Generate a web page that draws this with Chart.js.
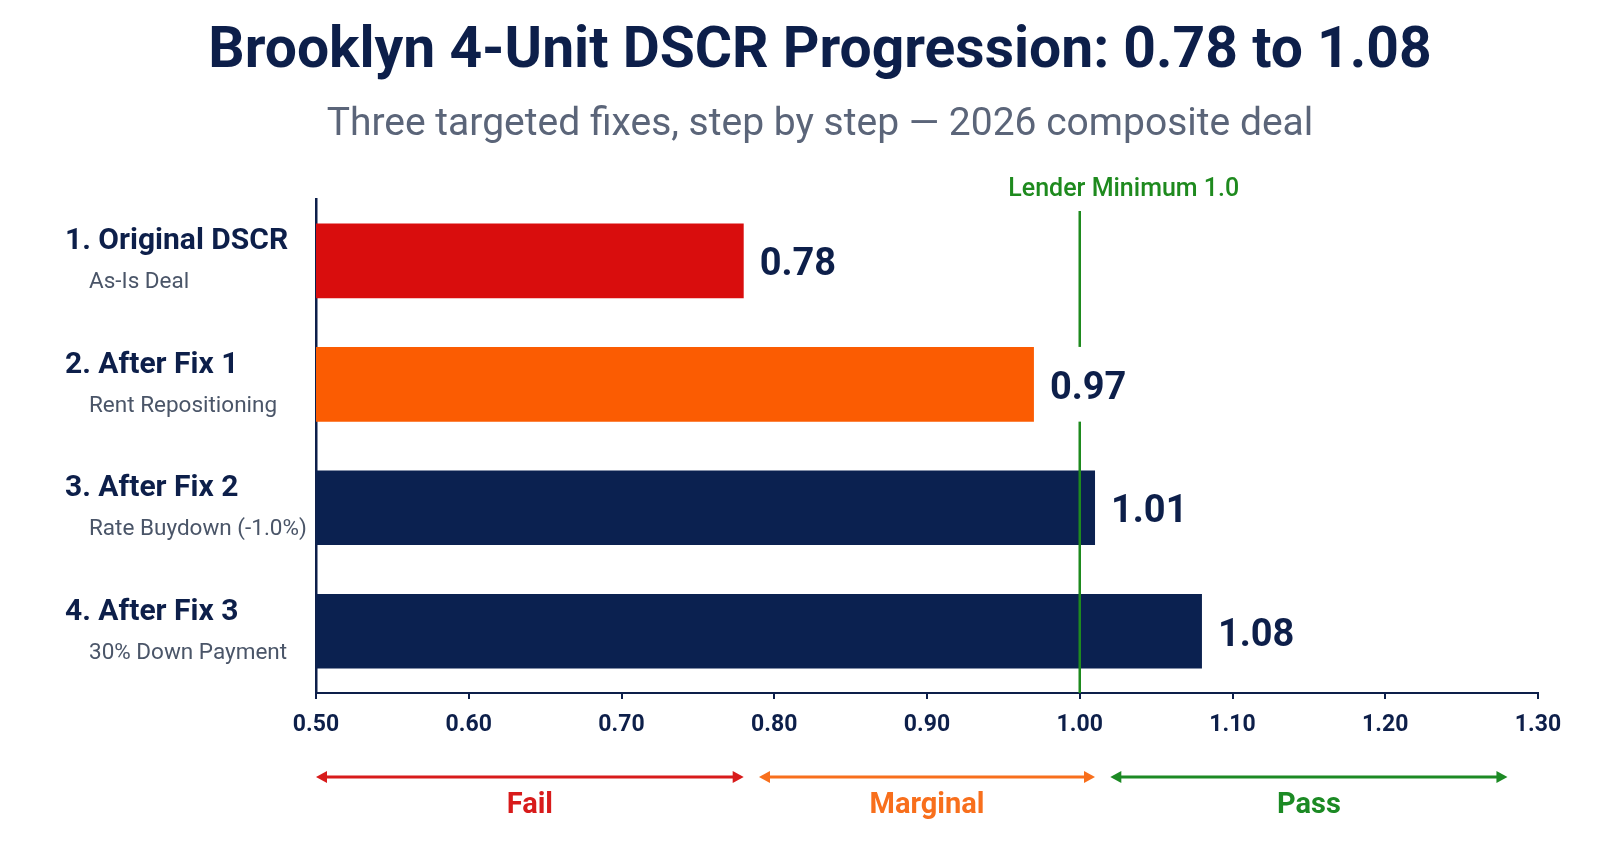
<!DOCTYPE html>
<html>
<head>
<meta charset="utf-8">
<title>Brooklyn 4-Unit DSCR Progression</title>
<script src="https://cdn.jsdelivr.net/npm/chart.js@4.4.1/dist/chart.umd.min.js"></script>
<style>
  body { margin: 0; background: #ffffff; }
  #dscrChart { display: block; }
</style>
</head>
<body>
<canvas id="dscrChart" width="1600" height="842"></canvas>
<script>
// Chart data
const categories = ["1. Original DSCR", "2. After Fix 1", "3. After Fix 2", "4. After Fix 3"];
const subLabels = ["As-Is Deal", "Rent Repositioning", "Rate Buydown (-1.0%)", "30% Down Payment"];
const dscrValues = [0.78, 0.97, 1.01, 1.08];
const barColors = ["#d90d0d", "#fb5c02", "#0b2150", "#0b2150"];

// x axis range
const xMin = 0.5;
const xMax = 1.3;
const xStep = 0.1;

// lender threshold + rating zones below the axis
const lenderMinimum = 1.0;
const lenderLabel = "Lender Minimum 1.0";
const zoneLabels = ["Fail", "Marginal", "Pass"];
const zoneFrom = [0.5, 0.79, 1.02];
const zoneTo = [0.78, 1.01, 1.28];
const zoneColors = ["#d81b1b", "#f86f1c", "#1c8a24"];

const NAVY = "#0d1f4a";
const GREEN = "#1e8a1e";
const FONT = "'Roboto', 'Liberation Sans', sans-serif";

Chart.defaults.font.family = FONT;

function arrowHead(ctx, x, y, dir) {
  ctx.beginPath();
  ctx.moveTo(x, y);
  ctx.lineTo(x - dir * 11, y - 6);
  ctx.lineTo(x - dir * 11, y + 6);
  ctx.closePath();
  ctx.fill();
}

// draws the lender line, value labels, category labels and the zone arrows
const extrasPlugin = {
  id: "dscrExtras",
  afterDatasetsDraw(chart) {
    const { ctx, chartArea, scales } = chart;
    const x = scales.x;
    const y = scales.y;
    ctx.save();

    // lender minimum line
    const lx = x.getPixelForValue(lenderMinimum);
    ctx.strokeStyle = GREEN;
    ctx.lineWidth = 2.5;
    ctx.beginPath();
    ctx.moveTo(lx, chartArea.top + 12);
    ctx.lineTo(lx, chartArea.bottom);
    ctx.stroke();

    ctx.fillStyle = GREEN;
    ctx.font = "500 25px " + FONT;
    ctx.textAlign = "center";
    ctx.textBaseline = "middle";
    ctx.fillText(lenderLabel, lx + 44, chartArea.top - 9);

    // value labels (white box hides the line behind the text)
    const meta = chart.getDatasetMeta(0);
    ctx.font = "bold 38px " + FONT;
    ctx.textAlign = "left";
    meta.data.forEach((bar, i) => {
      const txt = dscrValues[i].toFixed(2);
      const w = ctx.measureText(txt).width;
      ctx.fillStyle = "#ffffff";
      ctx.fillRect(bar.x + 8, bar.y - bar.height / 2, w + 16, bar.height);
      ctx.fillStyle = NAVY;
      ctx.fillText(txt, bar.x + 16, bar.y + 5);
    });

    // category labels
    categories.forEach((cat, i) => {
      const cy = y.getPixelForValue(i);
      ctx.textAlign = "left";
      ctx.fillStyle = NAVY;
      ctx.font = "bold 30px " + FONT;
      ctx.fillText(cat, 65, cy - 19);
      ctx.fillStyle = "#4a5568";
      ctx.font = "22.5px " + FONT;
      ctx.fillText(subLabels[i], 89, cy + 22);
    });

    // zone arrows
    const ay = 777;
    zoneLabels.forEach((zone, i) => {
      const x1 = x.getPixelForValue(zoneFrom[i]);
      const x2 = x.getPixelForValue(zoneTo[i]);
      ctx.strokeStyle = zoneColors[i];
      ctx.fillStyle = zoneColors[i];
      ctx.lineWidth = 3;
      ctx.beginPath();
      ctx.moveTo(x1 + 6, ay);
      ctx.lineTo(x2 - 6, ay);
      ctx.stroke();
      arrowHead(ctx, x1, ay, -1);
      arrowHead(ctx, x2, ay, 1);
      ctx.font = "bold 29px " + FONT;
      ctx.textAlign = "center";
      ctx.fillText(zone, (x1 + x2) / 2, 806);
    });

    ctx.restore();
  },
};

const ctx = document.getElementById("dscrChart").getContext("2d");
const chart = new Chart(ctx, {
  type: "bar",
  data: {
    labels: categories,
    datasets: [
      {
        data: dscrValues,
        backgroundColor: barColors,
        categoryPercentage: 1,
        barPercentage: 0.605,
      },
    ],
  },
  options: {
    indexAxis: "y",
    responsive: false,
    animation: false,
    layout: { padding: { left: 60, right: 20, top: 0, bottom: 0 } },
    plugins: {
      legend: { display: false },
      tooltip: { enabled: false },
      title: {
        display: true,
        text: "Brooklyn 4-Unit DSCR Progression: 0.78 to 1.08",
        color: NAVY,
        font: { size: 57, weight: "bold", lineHeight: 1.25 },
        padding: { top: 17, bottom: 10 },
      },
      subtitle: {
        display: true,
        text: "Three targeted fixes, step by step \u2014 2026 composite deal",
        color: "#5b6579",
        font: { size: 39, lineHeight: 1.2 },
        padding: { top: 4, bottom: 50 },
      },
    },
    scales: {
      x: {
        type: "linear",
        min: xMin,
        max: xMax,
        afterFit: (s) => { s.height = 149; },
        ticks: {
          stepSize: xStep,
          padding: 12,
          color: NAVY,
          font: { size: 23, weight: "bold" },
          callback: (v) => Number(v).toFixed(2),
        },
        grid: {
          drawOnChartArea: false,
          drawTicks: true,
          tickLength: 6,
          color: NAVY,
          lineWidth: 2,
        },
        border: { color: NAVY, width: 2 },
      },
      y: {
        afterFit: (s) => { s.width = 256; },
        ticks: { display: false },
        grid: { display: false },
        border: { color: NAVY, width: 2.5 },
      },
      yRight: {
        type: "linear",
        position: "right",
        afterFit: (s) => { s.width = 42; },
        ticks: { display: false },
        grid: { display: false },
        border: { display: false },
      },
    },
  },
  plugins: [extrasPlugin],
});
</script>
</body>
</html>
